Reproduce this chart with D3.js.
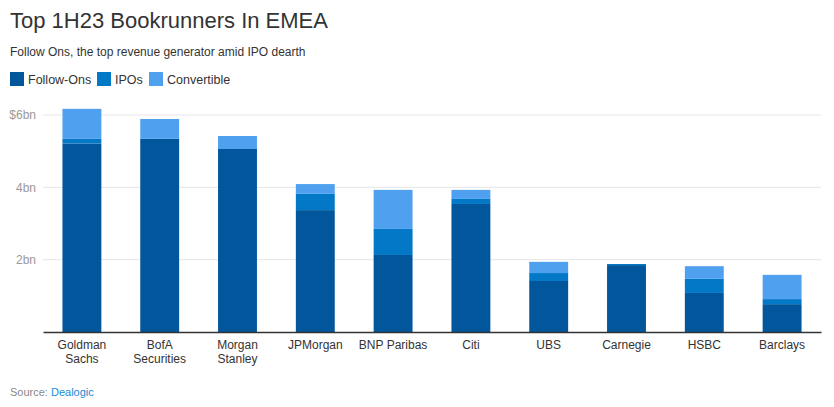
<!DOCTYPE html>
<html>
<head>
<meta charset="utf-8">
<script src="https://cdnjs.cloudflare.com/ajax/libs/d3/7.8.5/d3.min.js"></script>
<style>
  body { margin: 0; background: #fff; font-family: Arial, "Liberation Sans", sans-serif; }
</style>
</head>
<body>
<div id="bar-chart"></div>
<script>
// Bank names, two lines where the label wraps
var banks = ["Goldman Sachs", "BofA Securities", "Morgan Stanley", "JPMorgan", "BNP Paribas",
             "Citi", "UBS", "Carnegie", "HSBC", "Barclays"];
var bankLines = [["Goldman", "Sachs"], ["BofA", "Securities"], ["Morgan", "Stanley"], ["JPMorgan"],
                 ["BNP Paribas"], ["Citi"], ["UBS"], ["Carnegie"], ["HSBC"], ["Barclays"]];

// Revenue in $bn
var followOns   = [5.21, 5.34, 5.06, 3.37, 2.13, 3.54, 1.41, 1.85, 1.08, 0.77];
var ipos        = [0.13, 0.00, 0.00, 0.45, 0.72, 0.14, 0.22, 0.03, 0.39, 0.14];
var convertible = [0.83, 0.55, 0.36, 0.27, 1.08, 0.25, 0.31, 0.00, 0.35, 0.67];

var seriesNames = ["Follow-Ons", "IPOs", "Convertible"];
var seriesColors = ["#02569c", "#0378c6", "#4fa1ef"];

var yTicks = [2, 4, 6];
var yTickLabels = ["2bn", "4bn", "$6bn"];

var width = 834, height = 407;
var margin = {left: 43, right: 13, top: 115, bottom: 75};

var svg = d3.select("#bar-chart").append("svg")
    .attr("width", width)
    .attr("height", height);

// Title block
svg.append("text")
    .attr("x", 10).attr("y", 28)
    .attr("font-size", 22)
    .attr("fill", "#333")
    .text("Top 1H23 Bookrunners In EMEA");

svg.append("text")
    .attr("x", 10).attr("y", 56)
    .attr("font-size", 12)
    .attr("fill", "#333")
    .text("Follow Ons, the top revenue generator amid IPO dearth");

// Legend
var legendX = [10, 97, 149];
var legend = svg.append("g");
seriesNames.forEach(function(name, i) {
    legend.append("rect")
        .attr("x", legendX[i]).attr("y", 72)
        .attr("width", 14).attr("height", 14)
        .attr("fill", seriesColors[i]);
    legend.append("text")
        .attr("x", legendX[i] + 18).attr("y", 84)
        .attr("font-size", 12.5)
        .attr("fill", "#333")
        .text(name);
});

// Build stacked data
var rows = banks.map(function(b, i) {
    return {bank: b, "Follow-Ons": followOns[i], "IPOs": ipos[i], "Convertible": convertible[i]};
});
var stacked = d3.stack().keys(seriesNames)(rows);

var x = d3.scaleBand()
    .domain(banks)
    .range([margin.left, width - margin.right])
    .paddingInner(0.5)
    .paddingOuter(0.25);

var y = d3.scaleLinear()
    .domain([0, 6])
    .range([height - margin.bottom, margin.top]);

// Gridlines
svg.append("g")
    .selectAll("line")
    .data(yTicks)
    .enter()
    .append("line")
    .attr("x1", margin.left)
    .attr("x2", width - margin.right)
    .attr("y1", function(d) { return y(d); })
    .attr("y2", function(d) { return y(d); })
    .attr("stroke", "#e6e6e6")
    .attr("stroke-width", 1);

// Y axis labels
var yAxis = d3.axisLeft(y)
    .tickValues(yTicks)
    .tickSize(0)
    .tickPadding(7)
    .tickFormat(function(d, i) { return yTickLabels[i]; });

var yg = svg.append("g")
    .attr("transform", "translate(" + margin.left + ",0)")
    .call(yAxis);
yg.select(".domain").remove();
yg.selectAll("text")
    .attr("font-family", "Arial, 'Liberation Sans', sans-serif")
    .attr("font-size", 12)
    .attr("fill", "#999");

// Bars
svg.append("g")
    .selectAll("g")
    .data(stacked)
    .enter()
    .append("g")
    .attr("fill", function(d, i) { return seriesColors[i]; })
    .selectAll("rect")
    .data(function(d) { return d; })
    .enter()
    .append("rect")
    .attr("x", function(d) { return x(d.data.bank); })
    .attr("width", x.bandwidth())
    .attr("y", function(d) { return y(d[1]); })
    .attr("height", function(d) { return y(d[0]) - y(d[1]); });

// X axis
var xAxis = d3.axisBottom(x)
    .tickSize(0)
    .tickSizeOuter(0)
    .tickFormat("");

var xg = svg.append("g")
    .attr("transform", "translate(0," + y(0) + ")")
    .call(xAxis);
xg.select(".domain")
    .attr("stroke", "#333")
    .attr("stroke-width", 1.5);

// Category labels, wrapped by hand
xg.selectAll(".tick")
    .append("text")
    .attr("fill", "#333")
    .attr("font-size", 12)
    .attr("font-family", "Arial, 'Liberation Sans', sans-serif")
    .attr("text-anchor", "middle")
    .each(function(d, i) {
        var t = d3.select(this);
        bankLines[i].forEach(function(line, j) {
            t.append("tspan")
                .attr("x", 0)
                .attr("y", 17 + j * 14)
                .text(line);
        });
    });

// Source
var src = svg.append("text")
    .attr("x", 10).attr("y", 396)
    .attr("font-size", 11);
src.append("tspan").attr("fill", "#888").text("Source: ");
src.append("tspan").attr("fill", "#1a8bd6").text("Dealogic");
</script>
</body>
</html>
